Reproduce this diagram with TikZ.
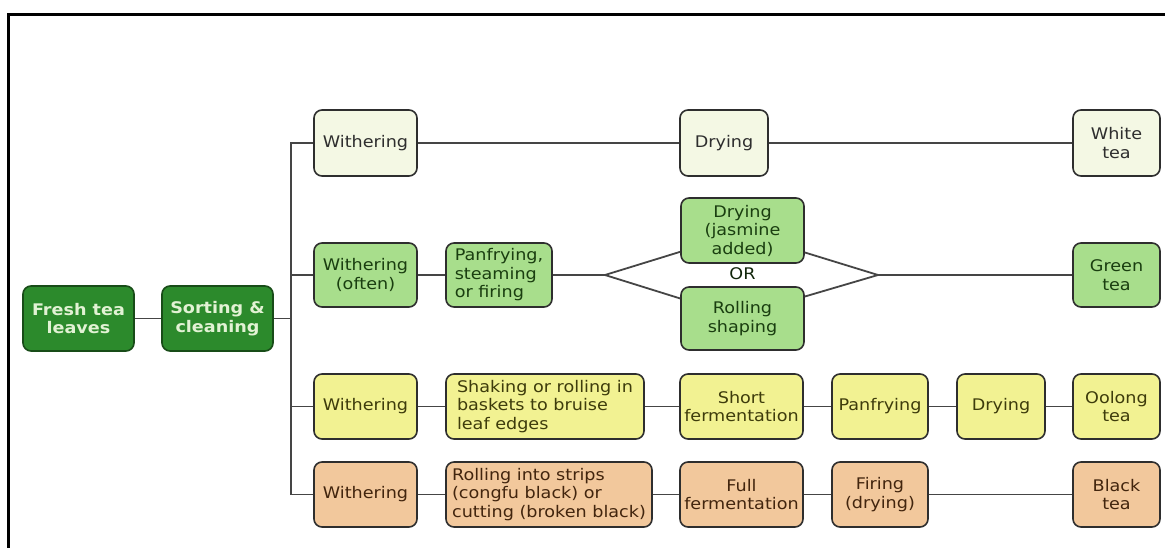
\documentclass[tikz,border=0pt]{standalone}
\usepackage{fontspec}
\setmainfont{DejaVu Sans}[FakeStretch=1.1]
\usetikzlibrary{calc}

\definecolor{boxline}{HTML}{2E2E2E}
\definecolor{wire}{HTML}{454545}
\definecolor{leafdark}{HTML}{2C8A2C}
\definecolor{leaftext}{HTML}{E2F2D4}
\definecolor{whitefill}{HTML}{F4F8E4}
\definecolor{whitetext}{HTML}{2E2E2E}
\definecolor{greenfill}{HTML}{A8DE8C}
\definecolor{greentext}{HTML}{1A3E10}
\definecolor{oolongfill}{HTML}{F2F292}
\definecolor{oolongtext}{HTML}{3E3C0C}
\definecolor{blackfill}{HTML}{F2C89C}
\definecolor{blacktext}{HTML}{42250E}

\begin{document}
\begin{tikzpicture}[x=1pt,y=-1pt,
  box/.style={draw=boxline, line width=1.6pt, rounded corners=8pt, inner sep=0pt,
    align=center, font=\fontsize{16}{18.5}\selectfont},
  start/.style={box, fill=leafdark, text=leaftext, draw=leafdark!55!black,
    font=\fontsize{16}{18.5}\selectfont\bfseries, minimum width=111pt, minimum height=65pt},
  whitebox/.style={box, fill=whitefill, text=whitetext},
  greenbox/.style={box, fill=greenfill, text=greentext},
  oolongbox/.style={box, fill=oolongfill, text=oolongtext},
  blackbox/.style={box, fill=blackfill, text=blacktext},
  wirel/.style={draw=wire, line width=1.8pt}]
\useasboundingbox (0,0) rectangle (1165,548);

% frame along the top and left edges
\draw[line width=3pt] (8.5,548) -- (8.5,15) -- (1165,15);

% start of the process
\node[start] (fresh) at (78.5,318.5) {Fresh tea\\leaves};
\node[start] (sort) at (217.5,318.5) {Sorting \&\\cleaning};
\coordinate (j) at (291,318.5);

% white tea
\node[whitebox, minimum width=103pt, minimum height=66pt] (w1) at (365.5,143) {Withering};
\node[whitebox, minimum width=88pt, minimum height=66pt] (dry1) at (724,143) {Drying};
\node[whitebox, minimum width=87pt, minimum height=66pt] (white) at (1116.5,143) {White\\tea};

% green tea
\node[greenbox, minimum width=103pt, minimum height=64pt] (w2) at (365.5,275) {Withering\\(often)};
\node[greenbox, minimum width=106pt, minimum height=64pt, align=left] (pan) at (499,275) {Panfrying,\\steaming\\or firing};
\node[greenbox, minimum width=123pt, minimum height=65pt] (jas) at (742.5,230.5) {Drying\\(jasmine\\added)};
\node[greenbox, minimum width=123pt, minimum height=63pt] (roll) at (742.5,318.5) {Rolling\\shaping};
\node[font=\fontsize{16}{18.5}\selectfont, text=greentext!60!black, inner sep=0pt] (or) at (742.5,274) {OR};
\node[greenbox, minimum width=87pt, minimum height=64pt] (green) at (1116.5,275) {Green\\tea};
\coordinate (dl) at (605,275);
\coordinate (dr) at (878,275);

% oolong tea
\node[oolongbox, minimum width=103pt, minimum height=65pt] (w3) at (365.5,406.5) {Withering};
\node[oolongbox, minimum width=198pt, minimum height=65pt, align=left] (shake) at (545,406.5) {Shaking or rolling in\\baskets to bruise\\leaf edges};
\node[oolongbox, minimum width=123pt, minimum height=65pt] (short) at (741.5,406.5) {Short\\fermentation};
\node[oolongbox, minimum width=96pt, minimum height=65pt] (panf) at (880,406.5) {Panfrying};
\node[oolongbox, minimum width=88pt, minimum height=65pt] (dry3) at (1001,406.5) {Drying};
\node[oolongbox, minimum width=87pt, minimum height=65pt] (oolong) at (1116.5,406.5) {Oolong\\tea};

% black tea
\node[blackbox, minimum width=103pt, minimum height=65pt] (w4) at (365.5,494.5) {Withering};
\node[blackbox, minimum width=206pt, minimum height=65pt, align=left] (roll4) at (549,494.5) {Rolling into strips\\(congfu black) or\\cutting (broken black)};
\node[blackbox, minimum width=123pt, minimum height=65pt] (full) at (741.5,494.5) {Full\\fermentation};
\node[blackbox, minimum width=96pt, minimum height=65pt] (firing) at (880,494.5) {Firing\\(drying)};
\node[blackbox, minimum width=87pt, minimum height=65pt] (black) at (1116.5,494.5) {Black\\tea};

% connectors
\begin{scope}[wirel]
\draw (fresh) -- (sort);
\draw (sort) -- (j);
\draw (w1.west) -| (j);
\draw (w2.west) -| (j);
\draw (w3.west) -| (j);
\draw (w4.west) -| (j);

\draw (w1) -- (dry1);
\draw (dry1) -- (white);

\draw (w2) -- (pan);
\draw (pan) -- (dl);
\draw (dl) -- ($(jas.south west)!0.18!(jas.north west)$);
\draw (dl) -- ($(roll.north west)!0.19!(roll.south west)$);
\draw ($(jas.south east)!0.17!(jas.north east)$) -- (dr);
\draw ($(roll.north east)!0.16!(roll.south east)$) -- (dr);
\draw (dr) -- (green);

\draw (w3) -- (shake);
\draw (shake) -- (short);
\draw (short) -- (panf);
\draw (panf) -- (dry3);
\draw (dry3) -- (oolong);

\draw (w4) -- (roll4);
\draw (roll4) -- (full);
\draw (full) -- (firing);
\draw (firing) -- (black);
\end{scope}
\end{tikzpicture}
\end{document}
